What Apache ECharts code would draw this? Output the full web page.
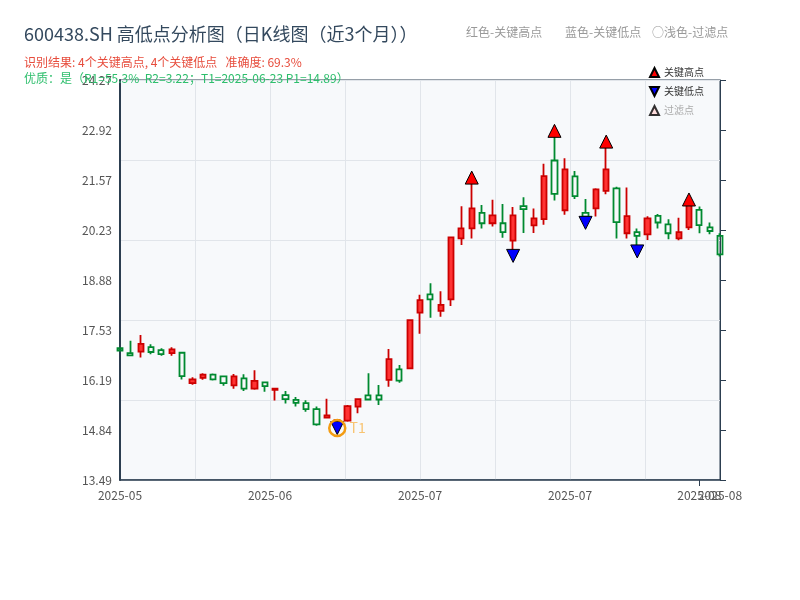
<!DOCTYPE html>
<html>
<head>
    <meta charset="utf-8">
    <title>600438.SH 高低点分析图</title>
    <script src="https://cdn.jsdelivr.net/npm/echarts@6/dist/echarts.min.js"></script>
</head>
<body style="margin:0">
    <div id="main" style="width: 800px;height:600px;"></div>
    <script type="text/javascript">
        // 交易日
        var dates = [
            '2025-05-22', '2025-05-23', '2025-05-26', '2025-05-27', '2025-05-28', '2025-05-29', '2025-05-30',
            '2025-06-03', '2025-06-04', '2025-06-05', '2025-06-06', '2025-06-09', '2025-06-10', '2025-06-11',
            '2025-06-12', '2025-06-13', '2025-06-16', '2025-06-17', '2025-06-18', '2025-06-19', '2025-06-20',
            '2025-06-23', '2025-06-24', '2025-06-25', '2025-06-26', '2025-06-27', '2025-06-30',
            '2025-07-01', '2025-07-02', '2025-07-03', '2025-07-04', '2025-07-07', '2025-07-08', '2025-07-09',
            '2025-07-10', '2025-07-11', '2025-07-14', '2025-07-15', '2025-07-16', '2025-07-17', '2025-07-18',
            '2025-07-21', '2025-07-22', '2025-07-23', '2025-07-24', '2025-07-25', '2025-07-28', '2025-07-29',
            '2025-07-30', '2025-07-31', '2025-08-01', '2025-08-04', '2025-08-05', '2025-08-06', '2025-08-07',
            '2025-08-08', '2025-08-11', '2025-08-12', '2025-08-13'
        ];
        var opens = [
            17.04, 16.91, 16.95, 17.07, 16.99, 16.91, 16.92, 16.10, 16.24, 16.33,
            16.28, 16.04, 16.23, 15.95, 16.12, 15.92, 15.78, 15.65, 15.56, 15.40,
            15.17, 15.02, 15.09, 15.47, 15.77, 15.77, 16.19, 16.47, 16.50, 18.00,
            18.49, 18.05, 18.36, 20.00, 20.27, 20.69, 20.41, 20.41, 19.94, 20.87,
            20.35, 20.52, 22.10, 20.76, 21.67, 20.69, 20.81, 21.28, 21.35, 20.14,
            20.17, 20.11, 20.61, 20.38, 20.00, 20.30, 20.77, 20.30, 20.07
        ];
        var closes = [
            16.98, 16.85, 17.16, 16.94, 16.88, 17.01, 16.29, 16.20, 16.33, 16.20,
            16.10, 16.28, 15.95, 16.16, 16.02, 15.95, 15.67, 15.57, 15.40, 14.99,
            15.23, 15.10, 15.48, 15.67, 15.66, 15.66, 16.75, 16.17, 17.80, 18.34,
            18.36, 18.21, 20.03, 20.27, 20.81, 20.41, 20.62, 20.17, 20.62, 20.79,
            20.54, 21.68, 21.20, 21.86, 21.14, 20.59, 21.32, 21.86, 20.44, 20.60,
            20.07, 20.54, 20.43, 20.14, 20.17, 20.90, 20.36, 20.20, 19.57
        ];
        var lows = [
            16.96, 16.84, 16.79, 16.88, 16.84, 16.84, 16.20, 16.06, 16.19, 16.17,
            16.03, 15.95, 15.89, 15.92, 15.87, 15.63, 15.55, 15.47, 15.33, 14.95,
            15.15, 14.99, 15.06, 15.29, 15.66, 15.51, 16.00, 16.11, 16.50, 17.43,
            17.86, 17.89, 18.18, 19.82, 20.00, 20.27, 20.32, 20.02, 19.69, 20.15,
            20.15, 20.37, 21.02, 20.64, 21.06, 20.57, 20.59, 21.19, 20.00, 20.00,
            19.80, 19.96, 20.27, 19.98, 19.95, 20.23, 20.14, 20.11, 19.51
        ];
        var highs = [
            17.06, 17.24, 17.40, 17.15, 17.04, 17.07, 16.94, 16.26, 16.37, 16.36,
            16.29, 16.35, 16.34, 16.45, 16.13, 15.95, 15.89, 15.73, 15.64, 15.47,
            15.68, 15.13, 15.51, 15.67, 16.37, 16.05, 17.02, 16.59, 17.80, 18.48,
            18.79, 18.58, 20.04, 20.87, 21.49, 20.90, 21.04, 20.93, 20.85, 21.11,
            20.81, 22.01, 22.74, 22.16, 21.82, 21.06, 21.35, 22.46, 21.39, 21.37,
            20.27, 20.60, 20.66, 20.52, 20.56, 20.92, 20.86, 20.43, 20.14
        ];

        // 关键高低点（标记位置）
        var keyHighIdx = [34, 42, 47, 55];
        var keyHighVal = [21.64, 22.90, 22.61, 21.05];
        var keyLowIdx = [21, 38, 45, 50];
        var keyLowVal = [14.89, 19.53, 20.42, 19.65];
        var t1Idx = 21;
        var t1Val = 14.89;

        // 坐标轴刻度
        var yTickLabels = ['13.49', '14.84', '16.19', '17.53', '18.88', '20.23', '21.57', '22.92', '24.27'];
        var yMin = 13.49, yMax = 24.27;

        var axisColor = '#2c3e50';
        var gridLine = '#e1e5ea';
        var font = 'Noto Sans CJK SC';

        var myChart = echarts.init(document.getElementById('main'));

        var candleData = [];
        for (var i = 0; i < dates.length; i++) {
            candleData.push([opens[i], closes[i], lows[i], highs[i]]);
        }
        var highData = keyHighIdx.map(function (d, k) { return [d, keyHighVal[k]]; });
        var lowData = keyLowIdx.map(function (d, k) { return [d, keyLowVal[k]]; });
        var last = dates.length - 1;

        var option = {
            animation: false,
            textStyle: { fontFamily: font },
            title: [
                { text: '600438.SH 高低点分析图（日K线图（近3个月））', left: 19, top: 20,
                  textStyle: { fontSize: 18, fontWeight: 'normal', color: '#34495e', fontFamily: font } },
                { text: '识别结果: 4个关键高点, 4个关键低点   准确度: 69.3%', left: 19, top: 51,
                  textStyle: { fontSize: 12, fontWeight: 'normal', color: '#e74c3c', fontFamily: font } },
                { text: '优质：是（R1=55.3%  R2=3.22；T1=2025-06-23 P1=14.89）', left: 19, top: 67,
                  textStyle: { fontSize: 12, fontWeight: 'normal', color: '#2dbe6c', fontFamily: font } },
                { text: '红色-关键高点', left: 461, top: 21,
                  textStyle: { fontSize: 12, fontWeight: 'normal', color: '#999', fontFamily: font } },
                { text: '蓝色-关键低点', left: 560, top: 21,
                  textStyle: { fontSize: 12, fontWeight: 'normal', color: '#999', fontFamily: font } },
                { text: '○浅色-过滤点', left: 647, top: 21,
                  textStyle: { fontSize: 12, fontWeight: 'normal', color: '#999', fontFamily: font } }
            ],
            legend: {
                orient: 'vertical',
                left: 644,
                top: 62,
                itemWidth: 9,
                itemHeight: 9,
                itemGap: 8,
                textStyle: { fontSize: 10, color: '#333', fontFamily: font },
                data: [
                    { name: '关键高点', icon: 'triangle' },
                    { name: '关键低点', icon: 'path://M0,0 L10,0 L5,10 Z' },
                    { name: '过滤点', icon: 'triangle', textStyle: { color: '#aaa' } }
                ]
            },
            grid: {
                left: 120, right: 80, top: 80, bottom: 120,
                show: true,
                backgroundColor: '#f7f9fb',
                borderColor: axisColor,
                borderWidth: 1
            },
            xAxis: [
                {
                    type: 'category', data: dates, boundaryGap: false, show: false
                },
                {
                    type: 'value', min: 0, max: last, interval: last / 8, position: 'bottom',
                    axisLine: { onZero: false, lineStyle: { color: axisColor, width: 1.5 } },
                    axisTick: { show: false },
                    splitLine: { show: true, lineStyle: { color: gridLine } },
                    axisLabel: {
                        color: '#555', fontSize: 12, margin: 9, showMinLabel: true, showMaxLabel: true,
                        formatter: function (v) {
                            var k = Math.round(v / (last / 8));
                            if (k % 2) return '';
                            return dates[Math.round(v)].slice(0, 7);
                        }
                    }
                },
                {
                    type: 'value', min: 0, max: last, interval: 56, position: 'bottom',
                    axisLine: { show: false, onZero: false },
                    axisTick: { show: true, length: 6, lineStyle: { color: axisColor } },
                    splitLine: { show: false },
                    axisLabel: {
                        color: '#555', fontSize: 12, margin: 9, showMinLabel: false, showMaxLabel: false,
                        formatter: function (v) {
                            return v === 56 ? dates[56].slice(0, 7) : '';
                        }
                    }
                }
            ],
            yAxis: [
                {
                    type: 'value', min: yMin, max: yMax, show: false
                },
                {
                    type: 'value', min: 0, max: 8, interval: 1, position: 'left',
                    axisLine: { show: true, onZero: false, lineStyle: { color: axisColor, width: 2 } },
                    axisTick: { show: false },
                    splitLine: { show: false },
                    axisLabel: {
                        color: '#555', fontSize: 12, margin: 8, showMinLabel: true, showMaxLabel: true,
                        formatter: function (v) { return yTickLabels[v]; }
                    }
                },
                {
                    type: 'value', min: 0, max: 8, interval: 1, position: 'right',
                    axisLine: { show: true, onZero: false, lineStyle: { color: axisColor, width: 1 } },
                    axisTick: { show: true, length: 6, lineStyle: { color: axisColor } },
                    splitLine: { show: false },
                    axisLabel: { show: false }
                },
                {
                    type: 'value', min: 0, max: 5, interval: 1, position: 'left',
                    axisLine: { show: false }, axisTick: { show: false }, axisLabel: { show: false },
                    splitLine: { show: true, lineStyle: { color: gridLine } }
                }
            ],
            series: [
                {
                    name: 'K线',
                    type: 'candlestick',
                    xAxisIndex: 0, yAxisIndex: 0,
                    barWidth: '55%',
                    clip: false,
                    data: candleData,
                    itemStyle: {
                        color: '#ff3333',
                        color0: 'transparent',
                        borderColor: '#cc0000',
                        borderColor0: '#008a30',
                        borderWidth: 1.8
                    }
                },
                {
                    name: '关键高点',
                    type: 'scatter',
                    xAxisIndex: 0, yAxisIndex: 0,
                    symbol: 'triangle',
                    symbolSize: 13,
                    data: highData,
                    itemStyle: { color: '#ff0000', borderColor: '#000', borderWidth: 1, opacity: 1 },
                    z: 5
                },
                {
                    name: '关键低点',
                    type: 'scatter',
                    xAxisIndex: 0, yAxisIndex: 0,
                    symbol: 'triangle',
                    symbolRotate: 180,
                    symbolSize: 13,
                    data: lowData,
                    itemStyle: { color: '#0000ff', borderColor: '#000', borderWidth: 1, opacity: 1 },
                    z: 5
                },
                {
                    name: '过滤点',
                    type: 'scatter',
                    xAxisIndex: 0, yAxisIndex: 0,
                    symbol: 'triangle',
                    symbolSize: 8,
                    data: [],
                    itemStyle: { color: '#ffd6d6', borderColor: '#000', borderWidth: 1 }
                },
                {
                    name: 'T1',
                    type: 'scatter',
                    xAxisIndex: 0, yAxisIndex: 0,
                    symbol: 'circle',
                    symbolSize: 16,
                    data: [[t1Idx, t1Val]],
                    itemStyle: { color: 'rgba(0,0,0,0)', borderColor: '#f39c12', borderWidth: 2.5, opacity: 1 },
                    label: {
                        show: true, position: 'right', distance: 3,
                        formatter: 'T1', color: '#f8c471', fontSize: 14
                    },
                    z: 6
                }
            ]
        };

        myChart.setOption(option);
    </script>
</body>
</html>
